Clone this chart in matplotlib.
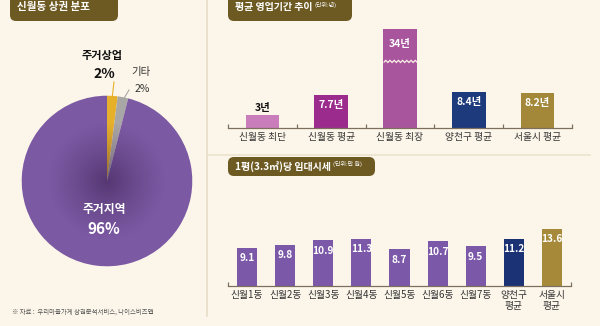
import numpy as np
import matplotlib
matplotlib.use("Agg")
import matplotlib.pyplot as plt
from matplotlib.patches import FancyBboxPatch, Circle

plt.rcParams['font.family'] = ['Noto Sans CJK KR', 'DejaVu Sans']

# pie data
pie_labels = ["주거상업", "기타", "주거지역"]
pie_values = [2, 2, 96]
pie_colors = ["#e7b02b", "#a9a6a6", "#7c59a3"]

# 평균 영업기간
period_cats = ["신월동 최단", "신월동 평균", "신월동 최장", "양천구 평균", "서울시 평균"]
period_vals = [3, 7.7, 34, 8.4, 8.2]
period_colors = ["#c97dbb", "#9b2b8d", "#a9559e", "#1c3a7c", "#a3883a"]
period_cap = 23  # long bar is drawn broken

# 임대시세
rent_cats = ["신월1동", "신월2동", "신월3동", "신월4동", "신월5동", "신월6동", "신월7동", "양천구\n평균", "서울시\n평균"]
rent_vals = [9.1, 9.8, 10.9, 11.3, 8.7, 10.7, 9.5, 11.2, 13.6]
rent_colors = ["#7b58a8"] * 7 + ["#1b3275", "#a68a3a"]

BG = "#fcf6ea"
BADGE = "#6d5922"
W, H = 600, 326

fig = plt.figure(figsize=(6, 3.26), dpi=100, facecolor=BG)

def px_axes(x0, y0, x1, y1, **kw):
    return fig.add_axes([x0 / W, 1 - y1 / H, (x1 - x0) / W, (y1 - y0) / H], **kw)

# background / decoration layer
bg = px_axes(0, 0, W, H)
bg.set_xlim(0, W)
bg.set_ylim(H, 0)
bg.axis("off")
bg.plot([207, 207], [0, 316], color="#e8dcc6", lw=1.2)
bg.plot([208, 590], [155, 155], color="#ece2cf", lw=1.2)

def badge(x0, y0, x1, y1, title, unit=None, fs=7.2):
    bg.add_patch(FancyBboxPatch((x0, y0), x1 - x0, y1 - y0,
                                boxstyle="round,pad=0,rounding_size=6",
                                fc=BADGE, ec="none"))
    t = bg.text(x0 + 7, (y0 + y1) / 2 + 0.5, title, color="white", fontsize=fs,
                fontweight="bold", va="center", ha="left")
    if unit:
        bg.annotate(unit, xy=(1, 0.75), xycoords=t, xytext=(1.5, 0), textcoords="offset points",
                    color="white", fontsize=4.3, va="center", ha="left")

badge(10, -8, 118, 21, "신월동 상권 분포", fs=7.6)
badge(228, -8, 352, 21, "평균 영업기간 추이", "(단위:년)")
badge(228, 157, 375, 176, "1평(3.3㎡)당 임대시세", "(단위:만 원)")

bg.text(12, 312, "※ 자료 :  우리마을가게 상권분석서비스, 나이스비즈맵", fontsize=4.6,
        color="#555555", va="center", ha="left")

# pie
pax = px_axes(20, 94, 194, 268)
pax.set_facecolor("none")
wedges, _ = pax.pie(pie_values, colors=pie_colors, startangle=90, counterclock=False,
                    wedgeprops=dict(linewidth=0))
pax.set_aspect("equal")
# radial shading toward centre
n = 300
yy, xx = np.mgrid[-1.1:1.1:n * 1j, -1.1:1.1:n * 1j]
r = np.hypot(xx, yy)
shade = np.zeros((n, n, 4))
shade[..., 0] = 0.18
shade[..., 1] = 0.08
shade[..., 2] = 0.25
shade[..., 3] = np.clip(0.55 * (1 - r / 0.7), 0, 1) ** 1.2
im = pax.imshow(shade, extent=(-1.1, 1.1, -1.1, 1.1), origin="lower", zorder=3)
im.set_clip_path(Circle((0, 0), 1.0, transform=pax.transData))
pax.set_xlim(-1.02, 1.02)
pax.set_ylim(-1.02, 1.02)

# text layer on top of pie
fg = px_axes(0, 0, W, H)
fg.set_xlim(0, W)
fg.set_ylim(H, 0)
fg.axis("off")
fg.patch.set_alpha(0)

fg.text(102, 55, pie_labels[0], fontsize=8, fontweight="bold", ha="center", va="center", color="#111111")
fg.text(104, 74, f"{pie_values[0]}%", fontsize=10, fontweight="bold", ha="center", va="center", color="#111111")
fg.text(141, 72, pie_labels[1], fontsize=7.5, ha="center", va="center", color="#333333")
fg.text(142, 89, f"{pie_values[1]}%", fontsize=7.5, ha="center", va="center", color="#333333")
fg.plot([114, 112], [82, 99], color="#e7b02b", lw=0.8)
fg.plot([129, 123], [90, 100], color="#a9a6a6", lw=0.8)
fg.text(104, 210, pie_labels[2], fontsize=8.5, fontweight="bold", ha="center", va="center", color="white")
fg.text(104, 229, f"{pie_values[2]}%", fontsize=11, fontweight="bold", ha="center", va="center", color="white")

def style_bar_axes(ax, ncat):
    ax.set_facecolor("none")
    for s in ["top", "right", "left"]:
        ax.spines[s].set_visible(False)
    ax.spines["bottom"].set_color("#7d6f5e")
    ax.spines["bottom"].set_linewidth(0.9)
    ax.set_yticks([])
    ax.set_xlim(-0.5, ncat - 0.5)
    ax.set_xticks(np.arange(ncat))
    ax.set_xticks(np.arange(ncat + 1) - 0.5, minor=True)
    ax.tick_params(axis="x", which="major", length=0, pad=3, labelsize=7, labelcolor="#333333")
    ax.tick_params(axis="x", which="minor", length=3, direction="in", color="#7d6f5e", width=0.9)

# 영업기간 bars
ax1 = px_axes(228, 20, 572, 128)
x1 = np.arange(len(period_vals))
shown = [min(v, period_cap) for v in period_vals]
ax1.bar(x1, shown, width=0.49, color=period_colors)
ax1.set_ylim(0, 108 / 4.3)
style_bar_axes(ax1, len(period_vals))
ax1.set_xticklabels(period_cats)
for xi, v, h in zip(x1, period_vals, shown):
    txt = f"{v:g}년"
    if v < 5:
        ax1.text(xi, h + 0.6, txt, ha="center", va="bottom", fontsize=7.5, fontweight="bold", color="#111111")
    elif v > period_cap:
        ax1.text(xi, h - 3.4, txt, ha="center", va="center", fontsize=7.5, fontweight="bold", color="white")
        # break mark
        zx = np.linspace(xi - 0.245, xi + 0.245, 17)
        zy = 15.6 + np.where(np.arange(17) % 2 == 0, -0.25, 0.25)
        ax1.fill_between(zx, zy - 0.2, zy + 0.2, color=BG, lw=0)
    else:
        ax1.text(xi, h - 2.4, txt, ha="center", va="center", fontsize=7.5, fontweight="bold", color="white")

# 임대시세 bars
ax2 = px_axes(228, 200, 571, 286)
x2 = np.arange(len(rent_vals))
ax2.bar(x2, rent_vals, width=0.53, color=rent_colors)
ax2.set_ylim(0, 86 / 4.2)
style_bar_axes(ax2, len(rent_vals))
ax2.set_xticklabels(rent_cats, linespacing=1.1)
ax2.set_xticks([-0.5, len(rent_vals) - 0.5], minor=True)
for xi, v in zip(x2, rent_vals):
    ax2.text(xi, v - 2.5, f"{v:g}", ha="center", va="center", fontsize=7.3, fontweight="bold", color="white")

fig.savefig("out.png", dpi=100, facecolor=BG)
